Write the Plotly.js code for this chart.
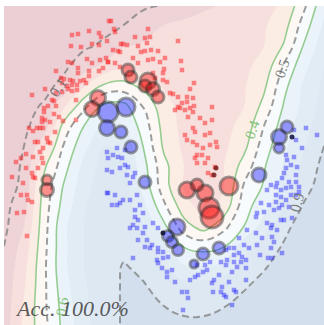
<!DOCTYPE html>
<html><head><meta charset="utf-8">
<script src="https://cdn.plot.ly/plotly-3.0.1.min.js"></script>
<style>html,body{margin:0;padding:0;background:#fff}#chart{width:324px;height:325px}</style>
</head><body><div id="chart"></div>
<script>
// grid of estimated class-1 probability, units = chart px units
const gridX = [4,24,44,64,84,104,124,144,164,184,204,224,244,264,284,304,324];
const gridY = [6,26,46,66,86,106,126,146,166,186,206,226,246,266,286,306,326];
const probGrid = [
[0.02,0.02,0.03,0.04,0.05,0.06,0.075,0.088,0.106,0.15,0.185,0.21,0.245,0.28,0.31,0.48,0.68],
[0.02,0.025,0.03,0.04,0.055,0.075,0.102,0.15,0.205,0.225,0.24,0.255,0.27,0.29,0.36,0.55,0.72],
[0.02,0.03,0.045,0.065,0.085,0.115,0.195,0.215,0.23,0.24,0.25,0.26,0.275,0.30,0.41,0.61,0.76],
[0.025,0.035,0.05,0.08,0.15,0.22,0.28,0.26,0.245,0.245,0.25,0.26,0.28,0.33,0.51,0.67,0.8],
[0.03,0.04,0.07,0.13,0.29,0.42,0.44,0.37,0.29,0.255,0.255,0.265,0.29,0.38,0.57,0.72,0.82],
[0.04,0.07,0.11,0.28,0.47,0.62,0.63,0.49,0.33,0.27,0.25,0.26,0.3,0.43,0.61,0.73,0.84],
[0.05,0.085,0.14,0.44,0.6,0.71,0.7,0.55,0.36,0.27,0.25,0.27,0.33,0.5,0.65,0.76,0.87],
[0.06,0.1,0.27,0.51,0.67,0.8,0.78,0.59,0.38,0.28,0.25,0.28,0.37,0.55,0.68,0.79,0.9],
[0.06,0.11,0.38,0.56,0.73,0.84,0.82,0.63,0.43,0.3,0.26,0.3,0.44,0.59,0.71,0.83,0.93],
[0.06,0.12,0.43,0.61,0.76,0.86,0.85,0.66,0.44,0.29,0.24,0.3,0.51,0.61,0.73,0.86,0.95],
[0.07,0.16,0.45,0.64,0.79,0.87,0.86,0.72,0.52,0.34,0.26,0.33,0.56,0.66,0.8,0.91,0.97],
[0.075,0.2,0.46,0.68,0.8,0.86,0.87,0.8,0.62,0.44,0.35,0.47,0.6,0.75,0.87,0.95,0.98],
[0.1,0.24,0.47,0.68,0.8,0.86,0.88,0.86,0.73,0.59,0.56,0.59,0.76,0.84,0.91,0.96,0.98],
[0.12,0.27,0.48,0.68,0.8,0.87,0.905,0.88,0.8,0.71,0.7,0.74,0.83,0.89,0.94,0.97,0.985],
[0.13,0.29,0.48,0.66,0.79,0.86,0.91,0.905,0.87,0.84,0.84,0.86,0.89,0.93,0.96,0.98,0.99],
[0.14,0.31,0.48,0.64,0.78,0.86,0.91,0.92,0.9,0.885,0.885,0.897,0.93,0.96,0.98,0.99,0.99],
[0.15,0.32,0.47,0.63,0.77,0.86,0.91,0.93,0.92,0.915,0.915,0.93,0.96,0.98,0.99,0.99,0.99]
];
const bandColors = ['rgb(236,207,213)','rgb(238,211,215)','rgb(246,223,221)','rgb(251,236,228)','rgb(253,248,243)',
  'rgb(247,251,253)','rgb(234,243,249)','rgb(226,236,245)','rgb(222,232,242)','rgb(211,223,236)'];

const redX = [72,78,89,99,101,109,81,71,92,99,107,68,72,78,87,92,100,106,108,78,61,56,89,99,103,89,84,80,73,70,64,62,67,72,77,86,68,72,77,62,56,45,52,54,56,48,32,76,
 111,114,115,135,145,148,150,123,127,121,138,147,178,113,118,120,141,145,151,158,133,115,108,120,148,153,160,165,181,182,164,138,194,190,163,153,155,163,167,170,173,178,187,193,182,187,180,194,212,
 44,44,42,42,45,40,43,37,29,33,50,54,59,63,76,55,35,38,47,48,50,26,21,33,43,40,42,43,16,26,38,32,33,12,35,23,21,27,28,32,24,17,27,
 175,185,190,193,178,188,200,205,212,193,195,185,205,210,187,193,197,203,210,197,202,208,197,195,205,215,208,212,216,217];
const redY = [35,34,31,33,37,21,47,46,44,45,41,62,63,68,59,63,60,58,62,73,78,71,71,71,68,76,80,81,81,80,79,83,86,85,85,83,89,91,90,92,93,89,100,101,106,106,95,100,
 21,29,32,37,38,29,37,44,45,44,46,43,41,50,51,52,52,51,50,51,58,63,62,67,60,59,62,58,61,70,69,63,83,89,73,73,78,80,82,93,94,97,97,98,103,102,108,106,107,
 108,112,118,122,120,128,128,128,128,131,122,114,117,121,120,132,142,142,138,142,143,154,158,157,148,152,158,163,162,168,168,173,177,177,178,183,195,195,200,202,212,213,236,
 110,110,108,112,107,117,118,123,120,128,132,135,135,133,140,142,145,148,145,155,155,158,163,158,163,167,173,175,142,147];
const blueX = [107,107,107,108,113,118,122,117,125,125,128,120,112,135,133,127,130,108,115,123,130,120,137,140,112,117,135,143,
 135,138,133,137,130,145,153,158,143,147,152,138,145,150,158,163,163,157,158,168,162,167,172,167,175,182,187,188,183,190,195,198,203,207,197,205,210,212,213,158,133,
 256,267,272,281,284,292,271,277,272,274,247,256,262,239,234,244,249,257,271,229,226,234,239,242,246,241,234,227,221,237,246,232,219,260,268,272,282,226,214,229,222,221,234,226,236,246,232,224,
 294,306,317,296,302,286,294,287,291,297,286,296,284,282,289,296,299,291,286,277,276,281,276,281,291,296,286,282,289,276,274,271,267,279,261,264,269,257,299];
const blueY = [152,170,193,158,155,157,158,148,150,165,167,168,172,173,177,175,183,193,195,200,200,203,195,205,205,205,210,213,
 217,220,225,228,228,227,223,228,233,240,245,240,247,248,248,252,258,260,263,257,268,272,270,277,282,292,292,298,310,280,277,275,272,270,265,265,262,283,292,252,258,
 217,223,225,220,220,218,228,230,237,242,230,233,238,238,248,245,248,245,248,248,250,255,253,257,260,262,262,260,262,267,268,272,275,255,258,258,253,265,280,282,287,292,290,297,292,280,305,295,
 130,128,135,140,148,155,157,160,165,167,168,175,173,178,182,182,187,187,188,183,187,190,195,197,195,195,200,205,207,202,210,185,190,208,203,212,205,213,192];
const darkX = [216,214,163,292];
const darkY = [168,175,233,137];
const darkC = ['rgba(110,20,20,0.8)','rgba(110,20,20,0.8)','rgba(10,10,40,0.9)','rgba(10,10,60,0.85)'];
// weighted (highlighted) samples
const bigRedX = [98,92,128,131,148,145,153,158,187,205,229,209,212,197,47,47];
const bigRedY = [98,109,70,77,81,86,89,97,190,193,186,208,217,185,180,190];
const bigRedS = [15,15,12,12,16,12,13,12,16,16,18,20,22,12,10,13];
const bigBlueX = [108,126,107,121,131,145,279,287,279,259,177,168,172,178,203,219,194];
const bigBlueY = [112,107,128,132,147,182,137,127,148,175,227,236,242,250,254,248,264];
const bigBlueS = [20,18,15,12,12,12,15,12,10,14,16,11,11,11,12,12,8];

const cscale = [[0, bandColors[0]]];
bandColors.forEach((c,k)=>cscale.push([(k+1)/11, c]));
cscale.push([1, bandColors[9]]);

const traces = [
 {type:'contour', x:gridX, y:gridY, z:probGrid, autocontour:false,
  contours:{start:0,end:1,size:0.1,coloring:'fill',showlines:false},
  colorscale:cscale, showscale:false, line:{smoothing:1.2,width:0}, hoverinfo:'skip'},
 {type:'contour', x:gridX, y:gridY, z:probGrid, autocontour:false,
  contours:{start:0.1,end:0.9,size:0.4,coloring:'none'}, showscale:false,
  line:{color:'rgba(125,125,125,0.75)',width:2,dash:'7px,4px',smoothing:1.2}, hoverinfo:'skip'},
 {type:'contour', x:gridX, y:gridY, z:probGrid, autocontour:false,
  contours:{start:0.4,end:0.6,size:0.2,coloring:'none'}, showscale:false,
  line:{color:'rgba(140,200,135,0.9)',width:1.6,smoothing:1.2}, hoverinfo:'skip'},
 {type:'scatter', mode:'markers', x:redX, y:redY, marker:{symbol:'square',size:4.5,color:'rgba(255,20,20,0.48)',line:{width:0}}},
 {type:'scatter', mode:'markers', x:blueX, y:blueY, marker:{symbol:'square',size:4.5,color:'rgba(20,20,255,0.42)',line:{width:0}}},
 {type:'scatter', mode:'markers', x:darkX, y:darkY, marker:{symbol:'circle',size:5,color:darkC,line:{width:0}}},
 {type:'scatter', mode:'markers', x:bigRedX, y:bigRedY, marker:{symbol:'circle',size:bigRedS,color:'rgba(255,0,0,0.6)',line:{color:'rgba(30,30,30,0.6)',width:3}}},
 {type:'scatter', mode:'markers', x:bigBlueX, y:bigBlueY, marker:{symbol:'circle',size:bigBlueS,color:'rgba(20,20,255,0.6)',line:{color:'rgba(30,30,30,0.6)',width:3}}}
];
const lab = (x,y,t,ang,col)=>({x:x,y:y,xref:'x',yref:'y',text:t,showarrow:false,textangle:ang,
  font:{family:'Liberation Serif, DejaVu Serif, serif',size:15,color:col}});
const layout = {
  width:324,height:325,margin:{l:4,r:0,t:6,b:0},paper_bgcolor:'#fff',plot_bgcolor:'#fff',showlegend:false,
  xaxis:{range:[4,324],visible:false,showgrid:false,zeroline:false},
  yaxis:{range:[325,6],visible:false,showgrid:false,zeroline:false},
  annotations:[
    lab(58,88,'0.1',-55,'rgba(110,110,110,0.9)'),
    lab(282,69,'0.5',-72,'rgba(110,110,110,0.9)'),
    lab(252,130,'0.4',-72,'rgba(130,195,125,1)'),
    lab(297,203,'0.9',-75,'rgba(110,110,110,0.9)'),
    lab(62,307,'0.6',-82,'rgba(130,195,125,1)'),
    {x:13,y:308,xref:'x',yref:'y',xanchor:'left',yanchor:'middle',text:'Acc. 100.0%',showarrow:false,
     font:{family:'Liberation Serif, serif',size:22,color:'rgba(70,70,70,0.9)',style:'italic'}}
  ]
};
Plotly.newPlot('chart',traces,layout,{staticPlot:true,displayModeBar:false});
</script></body></html>
